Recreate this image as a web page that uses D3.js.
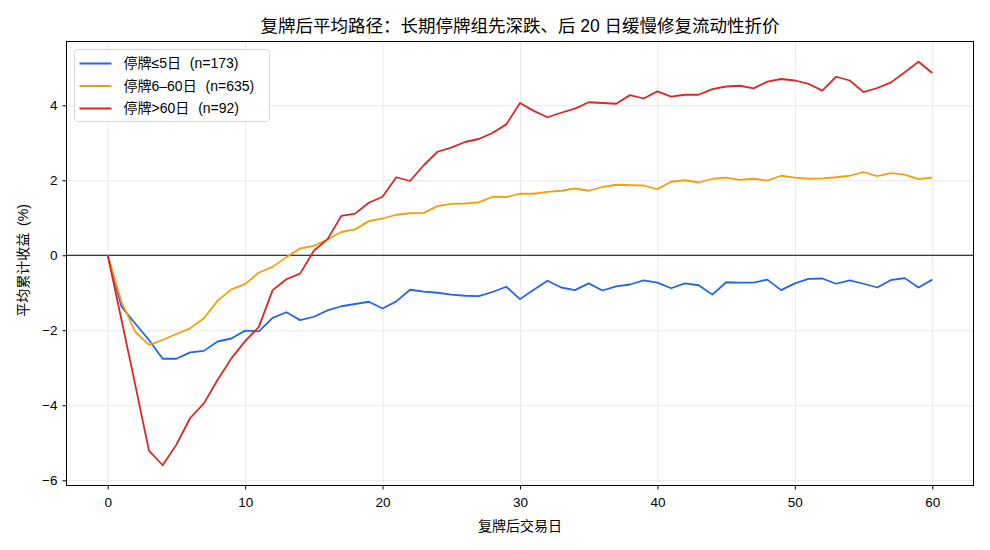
<!DOCTYPE html>
<html>
<head>
<meta charset="utf-8">
<script src="https://cdn.jsdelivr.net/npm/d3@7"></script>
<style>
  body { margin: 0; background: #fff; }
  svg { font-family: "Liberation Sans", "Noto Sans CJK SC", sans-serif; }
  .grid line { stroke: #e3e3e3; stroke-width: 0.8; }
  .grid path { display: none; }
  .axis text { font-size: 13.5px; fill: #000; }
  .axis path, .axis line { stroke: #000; }
</style>
</head>
<body>
<svg id="chart"></svg>
<script>
const days = d3.range(0, 61);

const shortSeries = [0, -1.37, -1.82, -2.26, -2.76, -2.76, -2.59, -2.55, -2.30, -2.22,
	-2.01, -2.03, -1.67, -1.52, -1.73, -1.64, -1.47, -1.36, -1.30, -1.24,
	-1.42, -1.23, -0.92, -0.97, -1.00, -1.05, -1.08, -1.09, -0.98, -0.84,
	-1.17, -0.92, -0.68, -0.86, -0.93, -0.75, -0.94, -0.83, -0.78, -0.67,
	-0.73, -0.88, -0.75, -0.80, -1.05, -0.72, -0.73, -0.73, -0.65, -0.93,
	-0.75, -0.63, -0.62, -0.76, -0.67, -0.76, -0.86, -0.66, -0.61, -0.86, -0.65];

const midSeries = [0, -1.24, -2.04, -2.39, -2.26, -2.10, -1.95, -1.68, -1.21, -0.91,
	-0.77, -0.46, -0.31, -0.05, 0.18, 0.25, 0.42, 0.62, 0.69, 0.91,
	0.98, 1.08, 1.12, 1.13, 1.31, 1.37, 1.38, 1.41, 1.56, 1.55,
	1.64, 1.64, 1.69, 1.72, 1.78, 1.72, 1.82, 1.88, 1.87, 1.86,
	1.76, 1.96, 2.00, 1.94, 2.04, 2.07, 2.01, 2.04, 1.99, 2.12,
	2.07, 2.04, 2.05, 2.08, 2.12, 2.22, 2.11, 2.19, 2.15, 2.03, 2.07];

const longSeries = [0, -1.72, -3.45, -5.21, -5.60, -5.05, -4.34, -3.95, -3.32, -2.75,
	-2.29, -1.91, -0.93, -0.64, -0.49, 0.12, 0.43, 1.05, 1.11, 1.40,
	1.56, 2.08, 1.98, 2.40, 2.76, 2.87, 3.02, 3.10, 3.26, 3.49,
	4.06, 3.85, 3.68, 3.80, 3.91, 4.08, 4.06, 4.04, 4.27, 4.18,
	4.37, 4.23, 4.28, 4.28, 4.43, 4.50, 4.52, 4.45, 4.63, 4.70,
	4.66, 4.57, 4.39, 4.76, 4.66, 4.35, 4.46, 4.61, 4.88, 5.16, 4.86];

const seriesNames = ['停牌≤5日 (n=173)', '停牌6–60日 (n=635)', '停牌>60日 (n=92)'];
const seriesColors = ['#2563eb', '#f59e0b', '#dc2626'];
const xTicks = [0, 10, 20, 30, 40, 50, 60];
const yTicks = [-6, -4, -2, 0, 2, 4];

const series = [shortSeries, midSeries, longSeries];

const totalW = 990, totalH = 550;
const margin = {top: 41.5, right: 16.5, bottom: 64.5, left: 66.5};
const width = totalW - margin.left - margin.right;
const height = totalH - margin.top - margin.bottom;

const x = d3.scaleLinear().domain([-3, 63]).range([0, width]);
const y = d3.scaleLinear().domain([-6.14, 5.70]).range([height, 0]);

const svg = d3.select('#chart')
	.attr('width', totalW)
	.attr('height', totalH);

const g = svg.append('g')
	.attr('transform', 'translate(' + margin.left + ',' + margin.top + ')');

// grid
g.append('g')
	.attr('class', 'grid')
	.attr('transform', 'translate(0,' + height + ')')
	.call(d3.axisBottom(x).tickValues(xTicks).tickSize(-height).tickFormat(''));
g.append('g')
	.attr('class', 'grid')
	.call(d3.axisLeft(y).tickValues(yTicks).tickSize(-width).tickFormat(''));

// zero line
g.append('line')
	.attr('x1', 0).attr('x2', width)
	.attr('y1', y(0)).attr('y2', y(0))
	.attr('stroke', '#000').attr('stroke-width', 1);

const line = d3.line()
	.x((d, i) => x(days[i]))
	.y(d => y(d));

g.selectAll('.series')
	.data(series)
	.enter()
	.append('path')
	.attr('class', 'series')
	.attr('d', d => line(d))
	.attr('fill', 'none')
	.attr('stroke', (d, i) => seriesColors[i])
	.attr('stroke-width', 1.8)
	.attr('stroke-linejoin', 'round');

// frame
g.append('rect')
	.attr('width', width).attr('height', height)
	.attr('fill', 'none').attr('stroke', '#000').attr('stroke-width', 1);

// axes
g.append('g')
	.attr('class', 'axis')
	.attr('transform', 'translate(0,' + height + ')')
	.call(d3.axisBottom(x).tickValues(xTicks).tickSize(4).tickPadding(8))
	.call(a => a.select('.domain').remove());

g.append('g')
	.attr('class', 'axis')
	.call(d3.axisLeft(y).tickValues(yTicks).tickSize(4).tickPadding(5)
		.tickFormat(d => d < 0 ? '\u2212' + Math.abs(d) : d))
	.call(a => a.select('.domain').remove());

// titles
svg.append('text')
	.attr('x', margin.left + width / 2)
	.attr('y', 32)
	.attr('text-anchor', 'middle')
	.style('font-size', '17.5px')
	.text('复牌后平均路径：长期停牌组先深跌、后 20 日缓慢修复流动性折价');

svg.append('text')
	.attr('x', margin.left + width / 2)
	.attr('y', 531)
	.attr('text-anchor', 'middle')
	.style('font-size', '14px')
	.text('复牌后交易日');

svg.append('text')
	.attr('transform', 'translate(28,' + (margin.top + height / 2 - 3) + ') rotate(-90)')
	.attr('text-anchor', 'middle')
	.style('font-size', '14px')
	.style('word-spacing', '3px')
	.text('平均累计收益 (%)');

// legend
const legend = g.append('g')
	.attr('transform', 'translate(8,8)');

legend.append('rect')
	.attr('width', 195).attr('height', 72)
	.attr('rx', 3)
	.attr('fill', '#fff').attr('fill-opacity', 0.8)
	.attr('stroke', '#d6d6d6');

const items = legend.selectAll('.item')
	.data(seriesNames)
	.enter()
	.append('g')
	.attr('transform', (d, i) => 'translate(0,' + (14 + i * 22.5) + ')');

items.append('line')
	.attr('x1', 5).attr('x2', 37)
	.attr('stroke', (d, i) => seriesColors[i])
	.attr('stroke-width', 1.8);

items.append('text')
	.attr('x', 49)
	.attr('dy', '0.35em')
	.style('font-size', '14px')
	.style('word-spacing', '5px')
	.text(d => d);
</script>
</body>
</html>
